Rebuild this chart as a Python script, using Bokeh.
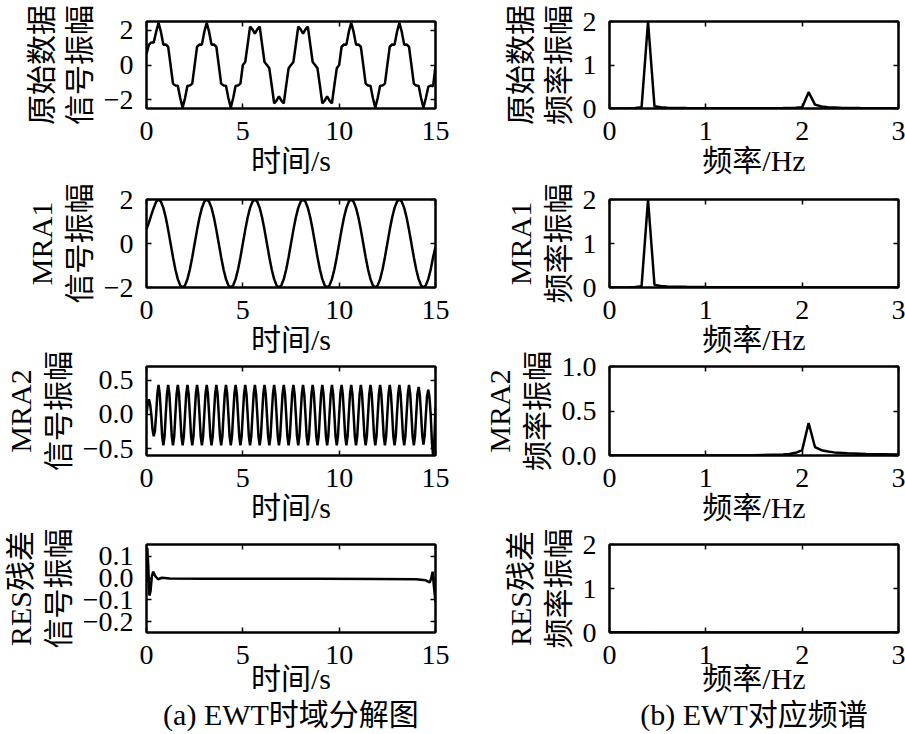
import numpy as np
from bokeh.plotting import figure
from bokeh.layouts import row, column
from bokeh.models import Range1d, FixedTicker, LinearAxis, CustomJSTickFormatter
from bokeh.embed import file_html
from bokeh.resources import INLINE

# ---------------- data ----------------
# sampling times of the time-domain curves: 0 .. 15 s, step 0.125 s
t = np.linspace(0, 15, 121)
# finer sampling for the fast MRA2 component: step 0.0625 s
t2 = np.linspace(0, 15, 241)

orig = [0.64, 1.17, 1.30, 1.30, 1.90,
        2.43, 1.90, 1.17, 1.18, 1.05, 0.00, -1.07, -1.18, -1.19, -1.90,
        -2.45, -1.90, -1.19, -1.18, -1.07, 0.00, 1.05, 1.18, 1.17, 1.90,
        2.43, 1.90, 1.17, 1.18, 1.05, 0.00, -1.07, -1.18, -1.19, -1.90,
        -2.45, -1.90, -1.19, -1.18, -1.07, 0.00, 0.17, 1.18, 2.20, 2.05,
        1.80, 2.05, 2.20, 1.18, 0.17, 0.00, -0.19, -1.18, -2.20, -2.05,
        -1.80, -2.05, -2.20, -1.18, -0.19, 0.00, 0.17, 1.18, 2.20, 2.05,
        1.80, 2.05, 2.20, 1.18, 0.17, 0.00, -0.19, -1.18, -2.20, -2.05,
        -1.80, -2.05, -2.20, -1.18, -0.19, 0.00, 1.05, 1.18, 1.17, 1.90,
        2.43, 1.90, 1.17, 1.18, 1.05, 0.00, -1.07, -1.18, -1.19, -1.90,
        -2.45, -1.90, -1.19, -1.18, -1.07, 0.00, 1.05, 1.18, 1.17, 1.90,
        2.43, 1.90, 1.17, 1.18, 1.05, 0.00, -1.07, -1.18, -1.19, -1.90,
        -2.45, -1.90, -1.26, -1.18, -1.22, -0.05]

mra1 = [0.64, 0.95, 1.30, 1.62, 1.90,
        2.00, 1.90, 1.62, 1.18, 0.62, 0.00, -0.62, -1.18, -1.62, -1.90,
        -2.00, -1.90, -1.62, -1.18, -0.62, 0.00, 0.62, 1.18, 1.62, 1.90,
        2.00, 1.90, 1.62, 1.18, 0.62, 0.00, -0.62, -1.18, -1.62, -1.90,
        -2.00, -1.90, -1.62, -1.18, -0.62, 0.00, 0.62, 1.18, 1.62, 1.90,
        2.00, 1.90, 1.62, 1.18, 0.62, 0.00, -0.62, -1.18, -1.62, -1.90,
        -2.00, -1.90, -1.62, -1.18, -0.62, 0.00, 0.62, 1.18, 1.62, 1.90,
        2.00, 1.90, 1.62, 1.18, 0.62, 0.00, -0.62, -1.18, -1.62, -1.90,
        -2.00, -1.90, -1.62, -1.18, -0.62, 0.00, 0.62, 1.18, 1.62, 1.90,
        2.00, 1.90, 1.62, 1.18, 0.62, 0.00, -0.62, -1.18, -1.62, -1.90,
        -2.00, -1.90, -1.62, -1.18, -0.62, 0.00, 0.62, 1.18, 1.62, 1.90,
        2.00, 1.90, 1.62, 1.18, 0.62, 0.00, -0.62, -1.18, -1.62, -1.90,
        -2.00, -1.90, -1.62, -1.18, -0.62, -0.15]

mra2 = [0.00, 0.15, 0.22, 0.15, 0.00, -0.22, -0.32, -0.24, 0.00, 0.30,
        0.43, 0.30, 0.00, -0.32, -0.45, -0.32, 0.00, 0.30,
        0.43, 0.30, 0.00, -0.32, -0.45, -0.32, 0.00, 0.30,
        0.43, 0.30, 0.00, -0.32, -0.45, -0.32, 0.00, 0.30,
        0.43, 0.30, 0.00, -0.32, -0.45, -0.32, 0.00, 0.30,
        0.43, 0.30, 0.00, -0.32, -0.45, -0.32, 0.00, 0.30,
        0.43, 0.30, 0.00, -0.32, -0.45, -0.32, 0.00, 0.30,
        0.43, 0.30, 0.00, -0.32, -0.45, -0.32, 0.00, 0.30,
        0.43, 0.30, 0.00, -0.32, -0.45, -0.32, 0.00, 0.30,
        0.43, 0.30, 0.00, -0.32, -0.45, -0.32, 0.00, 0.30,
        0.43, 0.30, 0.00, -0.32, -0.45, -0.32, 0.00, 0.30,
        0.43, 0.30, 0.00, -0.32, -0.45, -0.32, 0.00, 0.30,
        0.43, 0.30, 0.00, -0.32, -0.45, -0.32, 0.00, 0.30,
        0.43, 0.30, 0.00, -0.32, -0.45, -0.32, 0.00, 0.30,
        0.43, 0.30, 0.00, -0.32, -0.45, -0.32, 0.00, 0.30,
        0.43, 0.30, 0.00, -0.32, -0.45, -0.32, 0.00, 0.30,
        0.43, 0.30, 0.00, -0.32, -0.45, -0.32, 0.00, 0.30,
        0.43, 0.30, 0.00, -0.32, -0.45, -0.32, 0.00, 0.30,
        0.43, 0.30, 0.00, -0.32, -0.45, -0.32, 0.00, 0.30,
        0.43, 0.30, 0.00, -0.32, -0.45, -0.32, 0.00, 0.30,
        0.43, 0.30, 0.00, -0.32, -0.45, -0.32, 0.00, 0.30,
        0.43, 0.30, 0.00, -0.32, -0.45, -0.32, 0.00, 0.30,
        0.43, 0.30, 0.00, -0.32, -0.45, -0.32, 0.00, 0.30,
        0.43, 0.30, 0.00, -0.32, -0.45, -0.32, 0.00, 0.30,
        0.43, 0.30, 0.00, -0.32, -0.45, -0.32, 0.00, 0.30,
        0.43, 0.30, 0.00, -0.32, -0.45, -0.32, 0.00, 0.30,
        0.43, 0.30, 0.00, -0.32, -0.45, -0.32, 0.00, 0.30,
        0.43, 0.30, 0.00, -0.32, -0.45, -0.32, 0.00, 0.30,
        0.40, 0.28, 0.00, -0.31, -0.44, -0.31, 0.00, 0.27,
        0.36, 0.25, 0.00, -0.40, -0.60, -0.40, 0.10]

res_t = [0.0, 0.04, 0.09, 0.15, 0.21, 0.28, 0.35, 0.45, 0.6, 0.8, 1.2,
         3.0, 6.0, 9.0, 12.0, 14.0, 14.5, 14.7, 14.78, 14.85, 14.92, 15.0]
res_v = [-0.02, 0.14, 0.06, -0.08, -0.06, 0.01, 0.03, 0.01, -0.005, 0.002, -0.002,
         -0.003, -0.003, -0.003, -0.004, -0.005, -0.01, -0.02, 0.0, 0.03, -0.04, -0.11]

# spectra (frequency in Hz, amplitude)
f_orig = [0.0, 0.2, 0.267, 0.333, 0.4, 0.467, 0.533, 0.6, 0.8, 1.0, 1.5, 1.8,
          1.933, 2.0, 2.067, 2.133, 2.2, 2.267, 2.4, 2.6, 3.0]
a_orig = [0.0, 0.005, 0.01, 0.03, 2.0, 0.05, 0.03, 0.02, 0.01, 0.008, 0.006, 0.01,
          0.015, 0.03, 0.375, 0.09, 0.045, 0.03, 0.02, 0.012, 0.006]

f_mra1 = [0.0, 0.2, 0.267, 0.333, 0.4, 0.467, 0.533, 0.6, 0.8, 1.0, 1.5, 2.0, 2.5, 3.0]
a_mra1 = [0.0, 0.005, 0.01, 0.03, 2.0, 0.06, 0.035, 0.025, 0.015, 0.01, 0.005, 0.003, 0.002, 0.001]

f_mra2 = [0.0, 1.0, 1.5, 1.8, 1.867, 1.933, 2.0, 2.067, 2.133, 2.2, 2.267, 2.333,
          2.467, 2.667, 3.0]
a_mra2 = [0.0, 0.001, 0.004, 0.012, 0.018, 0.03, 0.06, 0.365, 0.095, 0.06, 0.045, 0.035,
          0.025, 0.018, 0.012]

f_res = [0.0, 0.5, 1.0, 1.5, 2.0, 2.5, 3.0]
a_res = [0.004, 0.002, 0.001, 0.001, 0.001, 0.001, 0.001]

time_ticks = [0, 5, 10, 15]
freq_ticks = [0, 1, 2, 3]

# ---------------- styling ----------------
FONT_NUM = "'Liberation Serif'"
FONT_TXT = "'Liberation Serif', 'Noto Sans CJK SC'"
TICK_SIZE = "28px"

fmt0 = "return tick.toFixed(0).replace('-', '\\u2212');"
fmt1 = "return tick.toFixed(1).replace('-', '\\u2212');"


def style_axis(ax, ticks, code=None, label=None, label_size="30px"):
    ax.ticker = FixedTicker(ticks=ticks)
    if code is not None:
        ax.formatter = CustomJSTickFormatter(code=code)
    ax.major_tick_in = 5
    ax.major_tick_out = 0
    ax.minor_tick_line_color = None
    ax.major_tick_line_width = 1.5
    ax.major_tick_line_color = "black"
    ax.axis_line_width = 2
    ax.axis_line_color = "black"
    ax.major_label_text_font = FONT_NUM
    ax.major_label_text_font_size = TICK_SIZE
    ax.major_label_text_color = "black"
    if label is not None:
        ax.axis_label = label
        ax.axis_label_text_font = FONT_TXT
        ax.axis_label_text_font_size = label_size
        ax.axis_label_text_font_style = "normal"
        ax.axis_label_text_color = "black"


def panel(xs, ys, xr, yr, xt, yt, ycode, xlabel, ylabel, geo, left, right):
    top, fh, bottom, mtop, xl_standoff = geo
    p = figure(frame_width=289, frame_height=fh,
               x_range=Range1d(*xr), y_range=Range1d(*yr),
               min_border_top=top, min_border_bottom=bottom,
               min_border_left=left, min_border_right=right,
               margin=(mtop, 0, 0, 0),
               output_backend="svg", toolbar_location=None)
    p.xgrid.visible = False
    p.ygrid.visible = False
    p.outline_line_color = "black"
    p.outline_line_width = 2
    p.outline_line_alpha = 1.0
    p.background_fill_color = "white"
    p.border_fill_color = None

    p.line(xs, ys, line_color="black", line_width=2.5)

    xa = p.xaxis[0]
    style_axis(xa, xt, fmt0, xlabel, "30px")
    xa.major_label_standoff = 13
    xa.axis_label_standoff = xl_standoff
    xa.axis_label_text_line_height = 1.1

    ya = p.yaxis[0]
    style_axis(ya, yt, ycode, ylabel, "30px")
    ya.major_label_standoff = 13
    ya.axis_label_standoff = 5
    ya.axis_label_text_line_height = 1.15

    for loc, tk in (("above", xt), ("right", yt)):
        ax = LinearAxis()
        style_axis(ax, tk)
        ax.major_label_text_color = None
        ax.major_label_standoff = 0
        p.add_layout(ax, loc)
    return p


# row geometry: (top border, frame height, min bottom border, margin-top overlap,
#                x-label standoff)
rows_geo = [(21, 87, 85, 0, 1), (25, 88, 85, -19, 1), (25, 89, 85, -31, 1),
            (18, 88, 0, -14, -5)]

left_specs = [
    (t, orig, (0, 15), (-2.5, 2.5), [-2, 0, 2], fmt0, "原始数据\n信号振幅"),
    (t, mra1, (0, 15), (-2, 2), [-2, 0, 2], fmt0, "MRA1\n信号振幅"),
    (t2, mra2, (0, 15), (-0.6, 0.7), [-0.5, 0, 0.5], fmt1, "MRA2\n信号振幅"),
    (res_t, res_v, (0, 15), (-0.25, 0.155), [-0.2, -0.1, 0, 0.1], fmt1, "RES残差\n信号振幅"),
]
right_specs = [
    (f_orig, a_orig, (0, 3), (0, 2), [0, 1, 2], fmt0, "原始数据\n频率振幅"),
    (f_mra1, a_mra1, (0, 3), (0, 2), [0, 1, 2], fmt0, "MRA1\n频率振幅"),
    (f_mra2, a_mra2, (0, 3), (0, 1), [0, 0.5, 1], fmt1, "MRA2\n频率振幅"),
    (f_res, a_res, (0, 3), (0, 2), [0, 1, 2], fmt0, "RES残差\n频率振幅"),
]

left_xlabels = ["时间/s"] * 3 + ["时间/s\n(a) EWT时域分解图"]
right_xlabels = ["频率/Hz"] * 3 + ["频率/Hz\n(b) EWT对应频谱"]

left_figs = []
right_figs = []
for i in range(4):
    xs, ys, xr, yr, yt, yc, yl = left_specs[i]
    left_figs.append(panel(xs, ys, xr, yr, time_ticks, yt, yc, left_xlabels[i], yl,
                           rows_geo[i], 144, 20))
    xs, ys, xr, yr, yt, yc, yl = right_specs[i]
    right_figs.append(panel(xs, ys, xr, yr, freq_ticks, yt, yc, right_xlabels[i], yl,
                            rows_geo[i], 154, 8))

layout = row(column(*left_figs), column(*right_figs))

open("out.html", "w").write(file_html(layout, INLINE))
